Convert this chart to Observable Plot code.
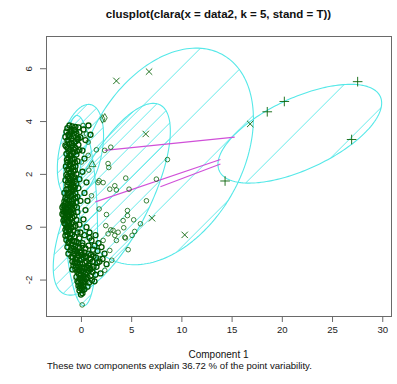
<!DOCTYPE html>
<html><head><meta charset="utf-8">
<script src="https://cdn.jsdelivr.net/npm/d3@7"></script>
<script src="https://cdn.jsdelivr.net/npm/@observablehq/plot@0.6"></script>
<style>
body{margin:0;background:#fff;font-family:"Liberation Sans",Arial,sans-serif;}
#wrap{position:relative;width:397px;height:384px;overflow:hidden;background:#fff;}
.t{position:absolute;white-space:nowrap;color:#111;line-height:1;}
#chart{position:absolute;left:0;top:28px;}
</style></head><body><div id="wrap">
<div class="t" style="left:0;width:437px;top:9px;text-align:center;font-weight:bold;font-size:11.5px;">clusplot(clara(x = data2, k = 5, stand = T))</div>
<div class="t" style="left:12px;top:176px;font-size:10px;transform:translate(-50%,-50%) rotate(-90deg);">Component 2</div>
<div class="t" style="left:0;width:437px;top:350px;text-align:center;font-size:10px;">Component 1</div>
<div class="t" style="left:47px;top:361px;font-size:9.6px;">These two components explain 36.72 % of the point variability.</div>
<div id="chart"></div>
</div>
<script>
// ---- data ----
const xTicks = [0, 5, 10, 15, 20, 25, 30];
const yTicks = [-2, 0, 2, 4, 6];
const xDomain = [-3.48, 30.87];
const yDomain = [-3.38, 7.22];

// ellipses: id, center x, center y, x half-extent, y half-extent, correlation, hatch spacing (px)
const ellId  = ["E1", "EC", "EM", "EA", "ER"];
const ellCx  = [-0.1, -0.1, 3.02, 8.36, 21.74];
const ellCy  = [0.63, 2.85, 1.06, 2.68, 3.54];
const ellSx  = [1.7, 2.3, 5.83, 8.76, 8.15];
const ellSy  = [3.6, 1.8, 3.63, 4.1, 1.87];
const ellRho = [-0.2, 0.35, 0.71, 0.35, 0.62];
const ellSp  = [11, 13, 16, 60, 60];

// segments between cluster ellipses
const segX1 = [2.32, 1.39, 7.86];
const segY1 = [2.91, 0.96, 1.53];
const segX2 = [15.26, 13.84, 13.84];
const segY2 = [3.41, 2.56, 2.39];

// main dense cluster (circles)
const denseStr = "-1.2,3.85 -0.9,3.82 -0.6,3.8 -1.4,3.75 -0.3,3.78 -1.0,3.7 -0.7,3.68 -1.5,3.62 -0.2,3.6 -1.1,3.58 -0.5,3.55 -1.3,3.5 -0.8,3.45 -1.6,3.42 -0.1,3.4 -1.0,3.35 -0.4,3.32 -1.4,3.28 -0.7,3.22 -1.2,3.15 -0.3,3.12 -0.9,3.08 -1.5,3.05 -0.6,3.0 -1.1,2.95 -0.2,2.92 -1.3,2.88 -0.8,2.82 -1.5,2.78 -0.5,2.75 -1.0,2.7 -1.3,2.62 -0.7,2.58 -1.1,2.52 -0.4,2.5 -1.4,2.45 -0.9,2.4 -1.2,2.33 -0.6,2.3 -1.0,2.22 -1.4,2.18 -0.8,2.12 -1.2,2.05 -0.5,2.02 -1.5,1.98 -1.0,1.95 -0.7,1.9 -1.3,1.85 -0.2,1.82 -1.6,1.78 -0.9,1.72 -1.2,1.68 -0.5,1.65 -1.4,1.6 -0.8,1.55 -1.1,1.5 -0.3,1.48 -1.5,1.42 -0.9,1.38 -1.2,1.32 -0.6,1.28 -1.4,1.22 -1.0,1.18 -0.4,1.15 -1.6,1.1 -0.8,1.05 -1.2,1.02 -1.7,0.98 -0.5,0.95 -1.4,0.9 -1.0,0.88 -1.8,0.82 -0.7,0.8 -1.3,0.75 -1.6,0.7 -0.9,0.68 -1.8,0.62 -1.2,0.6 -0.4,0.58 -1.5,0.55 -1.0,0.5 -1.8,0.45 -0.7,0.42 -1.3,0.4 -1.6,0.35 -1.1,0.3 -0.5,0.28 -1.8,0.25 -1.4,0.2 -0.9,0.18 -1.6,0.12 -1.2,0.08 -0.6,0.05 -1.5,0.0 -1.0,-0.02 -1.3,-0.08 -0.8,-0.12 -1.5,-0.18 -0.4,-0.2 -1.1,-0.25 -1.4,-0.3 -0.7,-0.35 -1.2,-0.4 -0.2,-0.42 -1.5,-0.48 -0.9,-0.5 -0.5,-0.55 -1.3,-0.6 0.1,-0.6 -1.0,-0.65 -0.6,-0.7 -1.4,-0.75 -0.2,-0.78 -0.8,-0.82 0.4,-0.8 -1.1,-0.88 -0.5,-0.9 0.0,-0.95 -1.3,-1.0 -0.7,-1.02 0.7,-1.0 -0.3,-1.08 -1.0,-1.12 0.2,-1.15 -0.6,-1.2 0.9,-1.2 -0.2,-1.25 -0.9,-1.3 0.5,-1.3 -0.4,-1.35 0.1,-1.4 -0.8,-1.45 0.7,-1.45 -0.2,-1.5 0.3,-1.55 -0.6,-1.6 0.9,-1.6 0.0,-1.65 -0.4,-1.7 0.5,-1.72 -0.1,-1.8 0.2,-1.85 -0.5,-1.88 0.6,-1.9 -0.2,-1.95 0.1,-2.0 -0.4,-2.05 0.4,-2.08 -0.1,-2.12 0.2,-2.2 -0.3,-2.22 0.0,-2.3 0.3,-2.35 -0.2,-2.4 0.1,-2.5 1.0,-0.5 1.3,-0.7 1.6,-0.9 1.2,-1.1 1.8,-1.3 1.5,-1.5 2.1,-1.2 1.1,-1.7 2.3,-1.0 1.7,-0.6 0.8,-0.4 1.4,-0.3 2.0,-0.75 2.5,-1.4 1.9,-1.75 0.9,-1.85 1.3,-2.05 0.6,-2.25 0.2,3.7 0.4,3.3 0.1,2.9 0.3,2.6 0.1,2.1 0.5,1.7 0.3,1.3 0.6,1.0 0.4,0.65 0.2,0.3 0.5,0.0 0.8,-0.2 0.3,-0.3 0.7,3.85 0.9,3.5 -1.9,0.75 -1.9,0.5 -1.7,0.3 -1.6,-0.1 -1.7,1.3 -1.55,2.3 -1.6,3.1 -1.3,3.3 -0.45,0.75 -0.1,1.0 -0.2,0.1 -0.1,-0.2 -1.0,1.45 -0.6,1.1 -1.1,2.75 -0.3,3.35 -0.9,-1.6 -0.6,-1.35 0.0,-1.2 -0.3,-0.6 0.4,-1.1 0.6,-1.55 -0.2,-1.65 0.3,-1.9 -0.15,-2.3 0.1,-0.7 -1.1,-0.4 -0.4,-0.98 1.1,-1.3 0.7,-0.7";
const dense2Str = "-1.05,3.62 -0.75,3.55 -1.25,3.4 -0.55,3.25 -0.95,3.18 -1.35,3.0 -0.75,2.95 -0.45,2.88 -1.2,2.72 -0.9,2.6 -1.45,2.55 -0.65,2.45 -1.15,2.38 -0.85,2.28 -1.25,2.2 -0.65,2.15 -1.05,2.08 -1.35,1.92 -0.85,1.85 -1.05,1.78 -0.65,1.75 -1.35,1.7 -1.0,1.62 -0.65,1.52 -1.3,1.45 -0.75,1.42 -1.05,1.35 -1.35,1.3 -0.85,1.22 -1.15,1.15 -1.45,1.05 -0.95,1.0 -1.55,0.92 -1.2,0.85 -0.85,0.9 -1.65,0.8 -1.05,0.75 -1.45,0.68 -1.7,0.58 -1.1,0.62 -0.8,0.55 -1.35,0.5 -1.6,0.45 -1.15,0.45 -0.9,0.35 -1.45,0.32 -1.7,0.15 -1.25,0.22 -1.0,0.12 -1.35,0.0 -0.8,0.02 -1.15,-0.12 -1.6,-0.32 -0.9,-0.28 -1.25,-0.55 -0.7,-0.55 -1.0,-0.78 -0.35,-0.75 -0.7,-0.9 -0.15,-0.95 0.3,-0.95 -0.85,-1.15 -0.45,-1.15 0.05,-1.05 0.5,-1.12 -0.7,-1.35 -0.15,-1.38 0.35,-1.35 0.8,-1.35 -0.55,-1.5 0.05,-1.52 0.5,-1.5 -0.3,-1.6 0.2,-1.68 0.7,-1.65 -0.25,-1.78 0.35,-1.75 0.0,-1.9 0.45,-1.95 -0.3,-2.1 0.15,-2.1 -0.05,-2.2 0.1,-2.38 -0.05,-2.55 1.15,-0.85 0.95,-1.05 1.45,-1.15 1.6,-1.35 0.85,-1.55 1.2,-1.5 1.4,-1.8 1.05,-2.0 0.75,-2.1";
const sparseStr = "0.17,3.85 0.5,3.53 0.67,3.22 1.49,2.93 2.92,3.03 2.32,2.91 0.67,2.72 0,2.47 2.65,2.41 2.72,2.26 8.56,2.56 0.73,2.16 1.66,1.69 2.16,1.69 4.41,1.86 7.46,1.82 2.82,1.44 3.48,1.41 3.32,1.57 4.74,1.44 1.0,1.19 6.47,1.0 1.76,0.69 2.49,0.48 4.58,0.63 4.58,0.44 5.87,0.13 5.3,-0.16 4.15,0.25 4.21,-0.02 3.65,-0.19 3.32,-0.31 2.92,-0.1 3.48,-0.5 4.38,-0.41 4.65,-0.85 5.2,0.28 2.42,0.06 2.16,-0.5 2.82,-0.88 3.02,-1.25 2.32,-1.63 1.82,-1.19 3.15,-0.12 2.65,-0.25 5.04,-0.31 4.31,-0.38 0.07,-2.94 1.76,1.76";
const diamondStr = "2.09,4.1 2.32,4.14";
const triangleStr = "1.09,2.37";
const timesStr = "3.48,5.54 6.73,5.89 6.4,3.53 16.8,3.91 10.28,-0.29 7.03,0.34";
const plusStr = "27.5,5.51 26.9,3.32 20.2,4.76 18.5,4.37 14.3,1.75";

// ---- build ----
const parse = s => s.trim().split(/\s+/).map(p => { const [x, y] = p.split(",").map(Number); return {x, y}; });
const dense = parse(denseStr).concat(parse(dense2Str)), sparse = parse(sparseStr), diamonds = parse(diamondStr),
      tris = parse(triangleStr), times = parse(timesStr), pluses = parse(plusStr);

const W = 397, H = 310, mL = 46, mR = 6, mT = 8, mB = 22;
const kx = (W - mL - mR) / (xDomain[1] - xDomain[0]);
const ky = (H - mT - mB) / (yDomain[1] - yDomain[0]);

const outline = [];
const hatchLines = [];
ellId.forEach((id, i) => {
  const cx = ellCx[i], cy = ellCy[i], sx = ellSx[i], sy = ellSy[i], r = ellRho[i], sp = ellSp[i];
  const q = Math.sqrt(1 - r * r);
  for (let k = 0; k <= 180; k++) {
    const t = 2 * Math.PI * k / 180;
    outline.push({id, x: cx + sx * Math.cos(t), y: cy + sy * (r * Math.cos(t) + q * Math.sin(t))});
  }
  const det = sx * sx * sy * sy * (1 - r * r);
  const A = sy * sy, B = -2 * r * sx * sy, C = sx * sx;
  const Gc = kx * cx - ky * cy;
  const ux = 1 / kx, uy = 1 / ky;
  for (let n = Math.floor((Gc - 500) / sp); n <= Math.ceil((Gc + 500) / sp); n++) {
    const g = n * sp - Gc;
    const dx = g / (2 * kx), dy = -g / (2 * ky);
    const qa = A * ux * ux + B * ux * uy + C * uy * uy;
    const qb = 2 * A * dx * ux + B * (dx * uy + dy * ux) + 2 * C * dy * uy;
    const qc = A * dx * dx + B * dx * dy + C * dy * dy - det;
    const disc = qb * qb - 4 * qa * qc;
    if (disc <= 0) continue;
    const s1 = (-qb - Math.sqrt(disc)) / (2 * qa), s2 = (-qb + Math.sqrt(disc)) / (2 * qa);
    hatchLines.push({x1: cx + dx + s1 * ux, y1: cy + dy + s1 * uy, x2: cx + dx + s2 * ux, y2: cy + dy + s2 * uy});
  }
});
const segs = segX1.map((v, i) => ({x1: v, y1: segY1[i], x2: segX2[i], y2: segY2[i]}));

const cyan = "#55e8e8", green = "#0a640a";
const plot = Plot.plot({
  width: W, height: H, marginLeft: mL, marginRight: mR, marginTop: mT, marginBottom: mB,
  x: {domain: xDomain}, y: {domain: yDomain},
  style: {fontFamily: "Liberation Sans, Arial, sans-serif", fontSize: "9.6px", color: "#222", background: "#fff", overflow: "visible"},
  marks: [
    Plot.link(hatchLines, {x1: "x1", y1: "y1", x2: "x2", y2: "y2", stroke: cyan, strokeWidth: 0.9}),
    Plot.line(outline, {x: "x", y: "y", z: "id", stroke: cyan, strokeWidth: 1.1}),
    Plot.link(segs, {x1: "x1", y1: "y1", x2: "x2", y2: "y2", stroke: "#d050d8", strokeWidth: 1.1}),
    Plot.dot(dense, {x: "x", y: "y", r: 2.5, stroke: "#005800", strokeWidth: 1.3}),
    Plot.dot(sparse, {x: "x", y: "y", r: 2.3, stroke: green, strokeWidth: 0.8}),
    Plot.dot(diamonds, {x: "x", y: "y", r: 2.6, symbol: "diamond", stroke: green, fill: "none", strokeWidth: 0.8}),
    Plot.dot(tris, {x: "x", y: "y", r: 2.6, symbol: "triangle", stroke: green, fill: "none", strokeWidth: 0.8}),
    Plot.dot(times, {x: "x", y: "y", r: 3, symbol: "times", stroke: green, strokeWidth: 0.9}),
    Plot.dot(pluses, {x: "x", y: "y", r: 3.2, symbol: "plus", stroke: green, strokeWidth: 0.9}),
    Plot.frame({stroke: "#6a6a6a"}),
    Plot.axisX({ticks: xTicks, tickSize: 6, tickPadding: 4, tickFormat: d => String(d), label: null, stroke: "#6a6a6a"}),
    Plot.axisY({ticks: yTicks, tickSize: 6, tickPadding: 9, tickRotate: -90, tickFormat: d => String(d), label: null, stroke: "#6a6a6a"})
  ]
});
document.getElementById("chart").appendChild(plot);
</script>
</body></html>
